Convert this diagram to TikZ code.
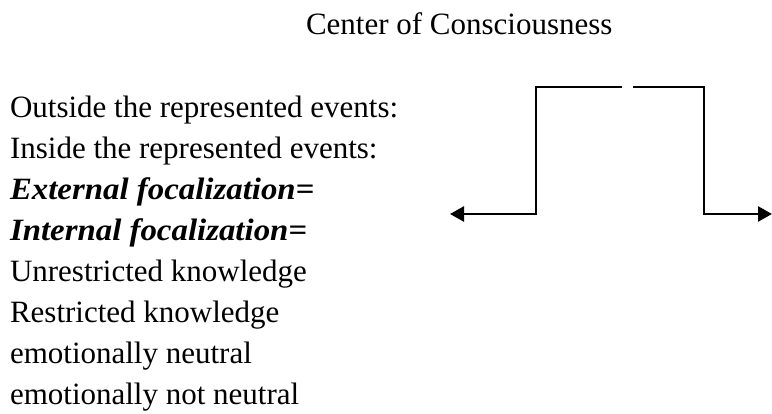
\documentclass[tikz,border=0pt]{standalone}
\usepackage{fontspec}
\setmainfont{Liberation Serif}
\usetikzlibrary{arrows.meta}
\begin{document}
\begin{tikzpicture}[x=1pt,y=1pt,
  txt/.style={anchor=base west,inner sep=0pt,outer sep=0pt,font=\fontsize{31}{36}\selectfont},
  bitxt/.style={txt,font=\fontsize{31}{36}\selectfont\bfseries\itshape},
  conn/.style={line width=2.6pt,line join=miter},
  tip/.style={-{Triangle[length=14pt,width=15pt]}}]
\useasboundingbox (0,0) rectangle (772,414);
\node[txt] (title) at (306,379) {Center of Consciousness};
\node[txt] (l1) at (10,296) {Outside the represented events:};
\node[txt] (l2) at (10,255) {Inside the represented events:};
\node[bitxt] (l3) at (10,214) {\scalebox{1.06}[1]{External focalization=}};
\node[bitxt] (l4) at (10,173) {\scalebox{1.06}[1]{Internal focalization=}};
\node[txt] (l5) at (10,132) {Unrestricted knowledge};
\node[txt] (l6) at (10,91) {Restricted knowledge};
\node[txt] (l7) at (10,50) {emotionally neutral};
\node[txt] (l8) at (10,9) {emotionally not neutral};
\coordinate (ltip) at (450,200);
\coordinate (lbot) at (536,200);
\coordinate (ltop) at (536,327);
\coordinate (gapl) at (622,327);
\coordinate (gapr) at (633,327);
\coordinate (rtop) at (704,327);
\coordinate (rbot) at (704,200);
\coordinate (rtip) at (772,200);
\draw[conn,tip] (gapl) -- (ltop) -- (lbot) -- (ltip);
\draw[conn,tip] (gapr) -- (rtop) -- (rbot) -- (rtip);
\end{tikzpicture}
\end{document}
